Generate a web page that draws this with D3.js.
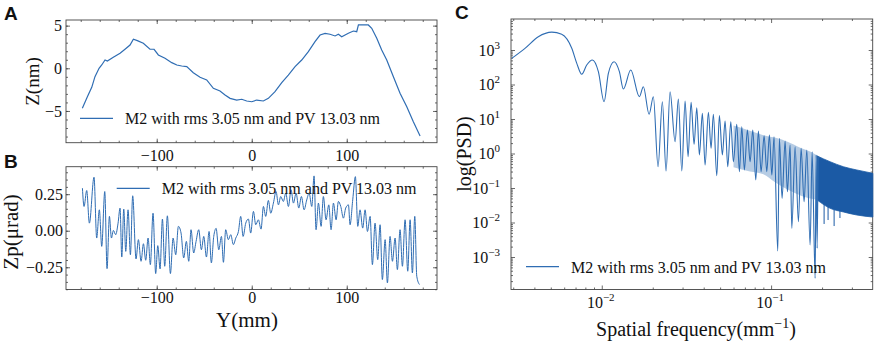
<!DOCTYPE html>
<html>
<head>
<meta charset="utf-8">
<script src="https://cdn.jsdelivr.net/npm/d3@7"></script>
<style>body{margin:0;background:#fff}</style>
</head>
<body>
<script>
// A: height profile
const profileY = [-178.3,-173.0,-168.4,-165.0,-160.7,-157.9,-154.4,-152.0,-145.7,-138.6,-133.4,-128.1,-124.6,-120.4,-114.1,-107.1,-102.8,-98.3,-91.3,-84.2,-78.9,-73.7,-68.4,-61.5,-54.4,-47.4,-40.4,-33.4,-28.1,-22.8,-15.8,-10.5,-5.3,0,5.3,12.2,17.5,24.5,31.6,38.5,45.6,52.6,59.6,66.6,71.9,77.2,82.4,87.7,91.2,94.7,101.7,107.0,110.5,112.3,117.5,122.7,126.3,131.6,136.8,142.1,149.1,156.1,163.2,170.1,177.2];
const profileZ = [-4.69,-3.33,-2.23,-0.98,0.0,0.39,0.97,0.86,1.29,1.76,2.23,2.73,3.40,3.24,2.93,2.23,2.23,1.56,1.17,0.66,0.39,0.27,0.19,-0.52,-1.06,-1.37,-2.35,-2.66,-3.13,-3.52,-3.72,-3.63,-3.83,-3.92,-3.72,-3.83,-3.52,-2.74,-1.69,-0.79,0.19,0.97,1.95,3.12,3.90,4.10,3.99,3.79,3.99,3.70,4.10,4.37,4.29,5.08,5.08,5.08,4.69,3.52,2.15,0.97,-0.98,-2.93,-4.50,-6.26,-7.94];

// B: slope profile
const slopeY = [-178.2,-176.5,-173.7,-170.9,-166.0,-163.2,-160.4,-157.9,-154.7,-152.3,-149.8,-147.7,-145.6,-143.2,-140.7,-138.6,-136.8,-134.7,-132.6,-130.2,-127.7,-125.3,-121.8,-119.3,-116.5,-114.0,-111.6,-109.1,-106.7,-103.9,-101.1,-98.9,-96.5,-94.0,-91.6,-88.8,-85.6,-82.8,-80.0,-77.2,-74.4,-71.6,-68.8,-66.3,-63.9,-61.1,-58.6,-55.8,-53.0,-50.5,-47.7,-44.9,-42.5,-40.0,-37.5,-34.7,-31.9,-29.8,-27.4,-24.6,-22.1,-19.3,-16.8,-14.0,-11.6,-9.1,-6.3,-3.5,-1.1,1.8,4.2,7.0,9.8,12.3,14.7,17.5,20.0,22.8,25.6,28.1,30.5,33.3,35.8,38.6,41.4,43.9,46.7,49.5,52.3,55.1,57.9,60.4,63.2,65.6,67.7,70.2,73.0,75.4,78.2,81.1,83.5,86.0,88.8,91.2,93.7,96.5,98.9,101.8,103.5,106.3,109.1,111.6,114.0,116.8,119.3,121.8,124.6,127.0,129.8,132.6,135.1,137.5,140.4,142.8,145.6,148.1,150.9,153.3,156.1,158.6,161.4,164.2,166.7,169.1,171.6,173.7,176.5];
const slopeZp = [0.291,0.166,0.275,0.052,0.366,-0.050,0.143,-0.107,0.268,-0.259,0.098,-0.050,0.002,-0.027,0.052,0.155,-0.180,0.148,-0.141,0.143,-0.164,0.239,-0.193,-0.061,-0.209,-0.089,-0.202,-0.050,-0.232,0.120,-0.293,-0.102,-0.261,0.080,-0.243,0.102,-0.293,-0.050,-0.164,0.030,-0.016,-0.186,-0.073,-0.209,0.007,-0.152,-0.073,0.007,-0.130,-0.039,-0.180,-0.005,-0.220,-0.039,0.016,-0.130,-0.039,-0.216,0.007,-0.061,-0.027,-0.095,-0.050,-0.005,0.098,-0.039,0.052,0.080,-0.016,0.132,0.041,0.075,0.011,0.166,0.098,0.207,0.120,0.189,0.268,0.177,0.234,0.200,0.257,0.166,0.280,0.189,0.257,0.155,0.234,0.143,0.211,0.257,0.166,0.375,0.007,0.189,0.030,0.234,0.075,0.177,0.007,0.189,0.075,0.200,0.166,0.086,0.155,0.177,0.041,0.211,0.370,0.030,0.143,0.018,0.143,-0.005,0.098,-0.232,0.052,-0.198,0.041,-0.334,-0.061,-0.357,-0.039,-0.209,-0.050,-0.266,0.007,-0.243,0.075,-0.277,0.075,-0.289,0.098,-0.311,-0.368];

// C: power spectral density
const psdFreq = [0.00294,0.00352,0.00422,0.00507,0.00580,0.00665,0.00712,0.00762,0.00815,0.00880,0.00955,0.01032,0.01094,0.01182,0.01271,0.01341,0.01483,0.01668,0.01761,0.01903,0.02017,0.02150,0.02280,0.02397,0.02531,0.02710,0.02834,0.02969,0.03105,0.03234,0.03369,0.03509,0.03640,0.03771,0.03928,0.04075,0.04262,0.04421,0.04561,0.04777,0.04949,0.05155,0.05349,0.05548,0.05781,0.05988,0.06271,0.06498,0.06712,0.06954,0.07244,0.07516,0.07796,0.08120,0.08414,0.08727,0.09093,0.09432,0.09772,0.1010,0.1041,0.1095,0.1119,0.1161,0.1210,0.1248,0.1295,0.1325,0.1386,0.1450,0.1504,0.1566,0.1625,0.1700,0.1747,0.1820,0.1845,0.1870,0.1895];
const psdValue = [574,1120,2430,3300,2850,1120,411,198,367,513,235,31.7,211,458,235,74.1,263,44.3,86.3,13.7,44.3,0.414,31.7,0.311,61.8,2.20,38.0,0.311,33.3,0.807,30.5,1.85,21.3,0.906,14.6,0.464,15.6,1.42,13.7,0.227,12.5,0.906,8.75,0.414,8.35,0.578,7.02,0.297,5.98,0.333,4.80,0.578,4.80,0.171,4.49,0.297,3.28,0.297,3.44,0.238,3.07,0.00149,2.76,0.0502,2.30,0.0782,1.76,0.00679,1.57,0.01055,1.42,0.0401,1.26,0.00223,1.13,0.000241,0.906,0.00179,0.793];
// where the lobes get too dense to resolve, the trace reads as a lighter band
const hazeFreq = [0.060,0.075,0.090,0.105,0.125,0.150,0.170,0.190];
const hazeUpper = [6.5,4.6,3.4,2.9,2.2,1.45,1.15,0.85];
const hazeLower = [0.40,0.30,0.25,0.15,0.09,0.06,0.05,0.045];
// dense high-frequency part, drawn as a solid band
const bandFreq = [0.1870,0.2231,0.2674,0.3208,0.3988];
const bandUpper = [0.85,0.578,0.414,0.333,0.267];
const bandLower = [0.0449,0.0258,0.0202,0.0165,0.0144];
const spikeFreq = [0.2056,0.2170,0.2356,0.2550];
const spikeTop = [0.035,0.03,0.025,0.022];
const spikeLow = [0.00906,0.0118,0.0079,0.0135];

const legendText = 'M2 with rms 3.05 nm and PV 13.03 nm';

const W = 886, H = 342;
const SERIF = '"Liberation Serif", "Times New Roman", serif';
const SANS = '"Liberation Sans", Arial, sans-serif';
const LINE = '#2f6db3';
const DARK = '#1b5aa5';
const FRAME = '#444';

const svg = d3.select('body').append('svg')
  .attr('width', W).attr('height', H)
  .attr('viewBox', `0 0 ${W} ${H}`)
  .style('background', '#fff');

const boxA = {x0: 66, x1: 437, y0: 20, y1: 142.7};
const boxB = {x0: 66, x1: 437, y0: 166.7, y1: 289.5};
const boxC = {x0: 511, x1: 872.7, y0: 19, y1: 289.5};

const minus = s => String(s).replace('-', '\u2212');

function styleAxis(g, size) {
  g.select('.domain').remove();
  g.selectAll('.tick line').attr('stroke', FRAME).attr('stroke-width', 0.8);
  g.attr('font-family', SERIF).attr('font-size', size || 16);
  g.selectAll('.tick text').attr('fill', '#111');
}

// ticks pointing inward on all four sides
function ticks(box, xs, ys, o) {
  const g = svg.append('g');
  const sides = [
    [d3.axisBottom(xs), `translate(0,${box.y1})`, o.xMajor, o.xMinor, o.xFmt, o.xPad],
    [d3.axisTop(xs), `translate(0,${box.y0})`, o.xMajor, o.xMinor, null, 0],
    [d3.axisLeft(ys), `translate(${box.x0},0)`, o.yMajor, o.yMinor, o.yFmt, o.yPad],
    [d3.axisRight(ys), `translate(${box.x1},0)`, o.yMajor, o.yMinor, null, 0]
  ];
  sides.forEach(([ax, tr, major, minor, fmt, pad]) => {
    g.append('g').attr('transform', tr)
      .call(ax.tickValues(minor).tickSize(-2).tickFormat(''))
      .call(styleAxis);
    g.append('g').attr('transform', tr)
      .call(ax.tickValues(major).tickSize(-4).tickPadding(pad).tickFormat(fmt || (() => '')))
      .call(styleAxis);
  });
  svg.append('rect')
    .attr('x', box.x0).attr('y', box.y0)
    .attr('width', box.x1 - box.x0).attr('height', box.y1 - box.y0)
    .attr('fill', 'none').attr('stroke', FRAME).attr('stroke-width', 0.9);
}

function legend(x, y, baseline) {
  svg.append('line').attr('x1', x).attr('x2', x + 33).attr('y1', y).attr('y2', y)
    .attr('stroke', LINE).attr('stroke-width', 1.3);
  svg.append('text').attr('x', x + 45).attr('y', baseline)
    .attr('font-family', SERIF).attr('font-size', 16).attr('fill', '#111')
    .text(legendText);
}

function panelLabel(t, x, y) {
  svg.append('text').attr('x', x).attr('y', y)
    .attr('font-family', SANS).attr('font-weight', 'bold').attr('font-size', 19)
    .attr('fill', '#111').text(t);
}

function yLabel(t, x, y, size) {
  svg.append('text').attr('transform', `translate(${x},${y}) rotate(-90)`)
    .attr('text-anchor', 'middle').attr('font-family', SERIF).attr('font-size', size)
    .attr('fill', '#111').text(t);
}

const range = (a, b, s) => d3.range(Math.round(a / s), Math.round(b / s) + 1).map(k => +(k * s).toFixed(4));

// ---------- A ----------
const xA = d3.scaleLinear().domain([-195.5, 195]).range([boxA.x0, boxA.x1]);
const yA = d3.scaleLinear().domain([-8.72, 5.66]).range([boxA.y1, boxA.y0]);

ticks(boxA, xA, yA, {
  xMajor: [-100, 0, 100], xMinor: range(-180, 180, 20), xFmt: d => minus(d), xPad: 6.5,
  yMajor: [-5, 0, 5], yMinor: range(-8, 5, 1), yFmt: d => minus(d), yPad: 4
});

svg.append('path')
  .datum(d3.zip(profileY, profileZ))
  .attr('fill', 'none').attr('stroke', LINE).attr('stroke-width', 1.2)
  .attr('d', d3.line().x(d => xA(d[0])).y(d => yA(d[1])));

legend(80, 118.3, 124);
yLabel('Z(nm)', 38.5, 81.5, 19);
panelLabel('A', 4, 20);

// ---------- B ----------
const xB = d3.scaleLinear().domain([-195.5, 195]).range([boxB.x0, boxB.x1]);
const yB = d3.scaleLinear().domain([-0.402, 0.438]).range([boxB.y1, boxB.y0]);

ticks(boxB, xB, yB, {
  xMajor: [-100, 0, 100], xMinor: range(-180, 180, 20), xFmt: d => minus(d), xPad: 2.5,
  yMajor: [-0.25, 0, 0.25], yMinor: range(-0.4, 0.4, 0.05), yFmt: d => minus(d3.format('.2f')(d)), yPad: 3
});

svg.append('path')
  .datum(d3.zip(slopeY, slopeZp))
  .attr('fill', 'none').attr('stroke', LINE).attr('stroke-width', 1)
  .attr('d', d3.line().curve(d3.curveMonotoneX).x(d => xB(d[0])).y(d => yB(d[1])));

legend(116.7, 188.3, 194);
yLabel('Zp(\u03bcrad)', 18, 232, 21);
panelLabel('B', 4, 167.7);

svg.append('text').attr('x', 247).attr('y', 326.5)
  .attr('text-anchor', 'middle').attr('font-family', SERIF).attr('font-size', 21)
  .attr('fill', '#111').text('Y(mm)');

// ---------- C ----------
const xC = d3.scaleLog().domain([Math.pow(10, -2.536), Math.pow(10, -0.4)]).range([boxC.x0, boxC.x1]);
const yC = d3.scaleLog().domain([Math.pow(10, -3.942), Math.pow(10, 3.899)]).range([boxC.y1, boxC.y0]);

const xDec = [-2, -1];
const yDec = [-3, -2, -1, 0, 1, 2, 3];
const minorOf = (lo, hi) => d3.range(lo, hi + 1).flatMap(e => d3.range(2, 10).map(m => m * Math.pow(10, e)));
const inDom = (s, v) => v >= s.domain()[0] && v <= s.domain()[1];

ticks(boxC, xC, yC, {
  xMajor: xDec.map(e => Math.pow(10, e)), xMinor: minorOf(-3, -1).filter(v => inDom(xC, v)), xPad: 7,
  yMajor: yDec.map(e => Math.pow(10, e)), yMinor: minorOf(-4, 3).filter(v => inDom(yC, v)), yPad: 11
});

// power-of-ten labels
yDec.forEach(e => {
  const t = svg.append('text').attr('x', boxC.x0 - 11).attr('y', yC(Math.pow(10, e)) + 5.6)
    .attr('text-anchor', 'end').attr('font-family', SERIF).attr('font-size', 16).attr('fill', '#111');
  t.append('tspan').text('10');
  t.append('tspan').attr('dy', -7).attr('font-size', 11).text(minus(e));
});
xDec.forEach(e => {
  const t = svg.append('text').attr('x', xC(Math.pow(10, e)) - 1).attr('y', boxC.y1 + 18.5)
    .attr('text-anchor', 'middle').attr('font-family', SERIF).attr('font-size', 16).attr('fill', '#111');
  t.append('tspan').text('10');
  t.append('tspan').attr('dy', -7).attr('font-size', 11).text(minus(e));
});

const band = d3.area().curve(d3.curveMonotoneX)
  .x(d => xC(d[0])).y0(d => yC(d[1])).y1(d => yC(d[2]));

svg.append('path')
  .datum(d3.zip(hazeFreq, hazeLower, hazeUpper))
  .attr('fill', LINE).attr('fill-opacity', 0.35)
  .attr('d', band);

svg.append('path')
  .datum(d3.zip(bandFreq, bandLower, bandUpper))
  .attr('fill', DARK).attr('stroke', DARK).attr('stroke-width', 0.8)
  .attr('d', band);

svg.append('g').selectAll('line')
  .data(d3.zip(spikeFreq, spikeTop, spikeLow))
  .join('line')
  .attr('x1', d => xC(d[0])).attr('x2', d => xC(d[0]))
  .attr('y1', d => yC(d[1])).attr('y2', d => yC(d[2]))
  .attr('stroke', DARK).attr('stroke-width', 1);

svg.append('path')
  .datum(d3.zip(psdFreq, psdValue))
  .attr('fill', 'none').attr('stroke', LINE).attr('stroke-width', 1.1)
  .attr('d', d3.line().curve(d3.curveMonotoneX).x(d => xC(d[0])).y(d => yC(d[1])));

legend(526, 266.7, 272.7);
yLabel('log(PSD)', 470.5, 154, 20);
panelLabel('C', 455, 19.3);

const xl = svg.append('text').attr('x', 696).attr('y', 336)
  .attr('text-anchor', 'middle').attr('font-family', SERIF).attr('font-size', 20).attr('fill', '#111');
xl.append('tspan').text('Spatial frequency(mm');
xl.append('tspan').attr('dy', -8).attr('font-size', 14).text('\u22121');
xl.append('tspan').attr('dy', 8).text(')');
</script>
</body>
</html>
